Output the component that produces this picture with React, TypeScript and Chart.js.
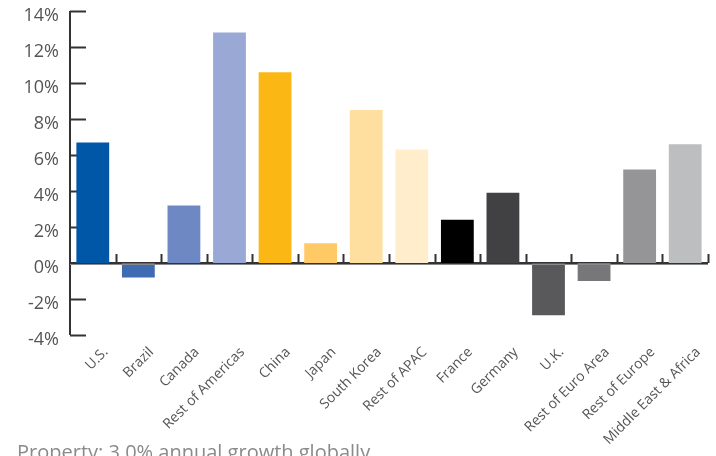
import React, { useEffect, useRef } from "react";
import { Chart, registerables, Plugin } from "chart.js";

Chart.register(...registerables);

const regions: string[] = [
  "U.S.",
  "Brazil",
  "Canada",
  "Rest of Americas",
  "China",
  "Japan",
  "South Korea",
  "Rest of APAC",
  "France",
  "Germany",
  "U.K.",
  "Rest of Euro Area",
  "Rest of Europe",
  "Middle East & Africa",
];

const growth: number[] = [6.7, -0.8, 3.2, 12.8, 10.6, 1.1, 8.5, 6.3, 2.4, 3.9, -2.9, -1.0, 5.2, 6.6];

const barColors: string[] = [
  "#0057a8",
  "#3f6bb5",
  "#6e88c4",
  "#9aa8d6",
  "#fbb814",
  "#ffc966",
  "#ffdfa0",
  "#ffedcc",
  "#000000",
  "#414143",
  "#59595c",
  "#77777a",
  "#959598",
  "#bdbec0",
];

const yMin = -4;
const yMax = 14;
const yStep = 2;

const footnote = "Property: 3.0% annual growth globally";

// Hand-drawn axes: vertical axis with inward ticks, zero baseline with upward category ticks
const axesPlugin: Plugin<"bar"> = {
  id: "customAxes",
  beforeDatasetsDraw(chart) {
    const { ctx, chartArea } = chart;
    const x = chart.scales.x;
    const y = chart.scales.y;
    const left = chartArea.left;
    const right = chartArea.right;
    const zeroY = y.getPixelForValue(0);
    ctx.save();
    ctx.strokeStyle = "#333333";
    ctx.lineWidth = 2;
    // vertical axis
    ctx.beginPath();
    ctx.moveTo(left, y.getPixelForValue(yMax));
    ctx.lineTo(left, y.getPixelForValue(yMin));
    ctx.stroke();
    // value ticks
    for (let v = yMin; v <= yMax; v += yStep) {
      const py = Math.round(y.getPixelForValue(v)) + 0.5;
      ctx.beginPath();
      ctx.moveTo(left, py);
      ctx.lineTo(left + 16, py);
      ctx.stroke();
    }
    // zero line
    ctx.beginPath();
    ctx.moveTo(left, zeroY);
    ctx.lineTo(right, zeroY);
    ctx.stroke();
    // category boundary ticks
    const n = regions.length;
    for (let i = 0; i < n; i++) {
      const bx =
        i < n - 1
          ? (x.getPixelForValue(i) + x.getPixelForValue(i + 1)) / 2
          : right;
      const px = Math.round(bx) + 0.5;
      ctx.beginPath();
      ctx.moveTo(px, zeroY);
      ctx.lineTo(px, zeroY - 9);
      ctx.stroke();
    }
    ctx.restore();
  },
  afterDatasetsDraw(chart) {
    const { ctx, chartArea } = chart;
    const y = chart.scales.y;
    const zeroY = Math.round(y.getPixelForValue(0)) + 1.5;
    ctx.save();
    ctx.strokeStyle = "#8a8a8c";
    ctx.lineWidth = 1;
    ctx.beginPath();
    ctx.moveTo(chartArea.left, zeroY);
    ctx.lineTo(chartArea.right, zeroY);
    ctx.stroke();
    ctx.restore();
  },
};

export default function App() {
  const canvasRef = useRef<HTMLCanvasElement | null>(null);

  useEffect(() => {
    if (!canvasRef.current) return;
    const chart = new Chart(canvasRef.current, {
      type: "bar",
      data: {
        labels: regions,
        datasets: [
          {
            data: growth,
            backgroundColor: barColors,
            borderWidth: 0,
            categoryPercentage: 1,
            barPercentage: 0.72,
          },
        ],
      },
      options: {
        animation: false,
        responsive: false,
        maintainAspectRatio: false,
        layout: { padding: { top: 11, right: 8, bottom: 0, left: 0 } },
        plugins: {
          legend: { display: false },
          tooltip: { enabled: false },
          title: { display: false },
        },
        scales: {
          x: {
            grid: { display: false, drawTicks: false },
            border: { display: false },
            ticks: {
              autoSkip: false,
              minRotation: 45,
              maxRotation: 45,
              padding: 9,
              labelOffset: 13,
              color: "#555555",
              font: { family: "'Open Sans', sans-serif", size: 14 },
            },
            afterFit(scale) {
              scale.height = 121;
              scale.paddingLeft = 0;
              scale.paddingRight = 0;
            },
          },
          y: {
            min: yMin,
            max: yMax,
            grid: { display: false, drawTicks: false },
            border: { display: false },
            ticks: {
              stepSize: yStep,
              padding: 11,
              labelOffset: 5,
              color: "#555555",
              font: { family: "'Open Sans', sans-serif", size: 18 },
              callback: (v) => `${v}%`,
            },
            afterFit(scale) {
              scale.width = 70;
              scale.paddingTop = 0;
              scale.paddingBottom = 0;
            },
          },
        },
      },
      plugins: [axesPlugin],
    });
    return () => chart.destroy();
  }, []);

  return (
    <div
      style={{
        position: "fixed",
        left: 0,
        top: 0,
        width: 716,
        height: 456,
        overflow: "hidden",
        background: "#ffffff",
      }}
    >
      <canvas ref={canvasRef} width={716} height={456} style={{ display: "block" }} />
      <div
        style={{
          position: "absolute",
          left: 17,
          top: 442,
          fontFamily: "'Open Sans', sans-serif",
          fontSize: 20,
          lineHeight: 1,
          color: "#8a8a8a",
          whiteSpace: "nowrap",
        }}
      >
        {footnote}
      </div>
    </div>
  );
}
